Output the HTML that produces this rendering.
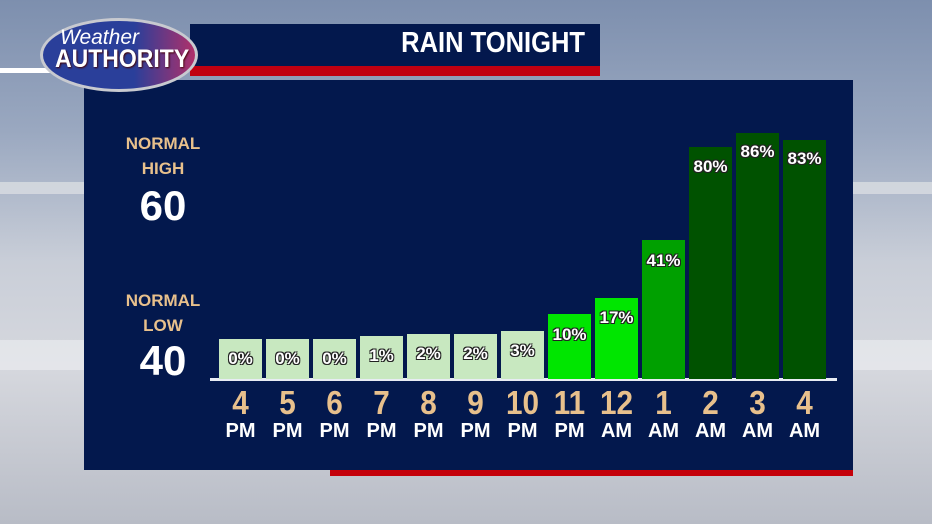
<!DOCTYPE html>
<html><head><style>
body{margin:0;width:932px;height:524px;overflow:hidden;position:relative;font-family:"Liberation Sans",sans-serif;
background:linear-gradient(180deg,#7d8fae 0%,#9aa8c0 25%,#c9ced8 50%,#d6d8de 70%,#b8bcc6 100%);}
.a{position:absolute}
.bar{position:absolute;width:43px;bottom:145px}
.pl{position:absolute;width:43px;text-align:center;color:#fff;font-weight:bold;font-size:17px;text-shadow:-1px -1px 0 #222,1px -1px 0 #222,-1px 1px 0 #222,1px 1px 0 #222}
.hr{position:absolute;width:47px;text-align:center;font-weight:bold;top:386px}
.hr b{display:block;color:#e8c08c;font-size:33px;line-height:34px;transform:scaleX(.9)}
.hr i{display:block;font-style:normal;color:#fff;font-size:20px;line-height:22px}
.lt{position:absolute;left:113px;width:100px;text-align:center;font-weight:bold}
</style></head><body>
<div class="a" style="left:0;top:182px;width:932px;height:12px;background:#e0e2e6;opacity:.7"></div>
<div class="a" style="left:0;top:340px;width:932px;height:30px;background:#eceef2;opacity:.6"></div>
<div class="a" style="left:84px;top:80px;width:769px;height:390px;background:#03184d"></div>
<div class="a" style="left:330px;top:470px;width:523px;height:6px;background:#c4000a"></div>
<div class="a" style="left:190px;top:24px;width:410px;height:44px;background:#03184d"></div>
<div class="a" style="left:190px;top:66px;width:410px;height:10px;background:#c00010"></div>
<div class="a" style="left:370px;top:27px;width:215px;text-align:right;color:#fff;font-weight:bold;font-size:29px;transform:scaleX(.88);transform-origin:right">RAIN TONIGHT</div>
<div class="a" style="left:0;top:68px;width:50px;height:5px;background:#fff"></div>
<div class="a" style="left:40px;top:18px;width:158px;height:74px;border-radius:50%;background:linear-gradient(90deg,#2a3f9a 60%,#b0306a);border:3px solid #c8cad0;box-sizing:border-box"></div>
<div class="a" style="left:60px;top:26px;color:#fff;font-style:italic;font-size:21px;">Weather</div>
<div class="a" style="left:55px;top:45px;color:#fff;font-weight:bold;font-size:25px;text-shadow:1px 1px 2px #400;transform:scaleX(.92);transform-origin:left">AUTHORITY</div>

<div class="lt" style="top:131px;color:#e8c08c;font-size:17px;line-height:25px">NORMAL<br>HIGH</div>
<div class="lt" style="top:182px;color:#fff;font-size:42px">60</div>
<div class="lt" style="top:288px;color:#e8c08c;font-size:17px;line-height:25px">NORMAL<br>LOW</div>
<div class="lt" style="top:337px;color:#fff;font-size:42px">40</div>

<div class="a" style="left:210px;top:378px;width:627px;height:3px;background:#e8ecf4"></div>

<div class="bar" style="left:219px;height:40px;background:#c8e8c0"></div>
<div class="bar" style="left:266px;height:40px;background:#c8e8c0"></div>
<div class="bar" style="left:313px;height:40px;background:#c8e8c0"></div>
<div class="bar" style="left:360px;height:43px;background:#c8e8c0"></div>
<div class="bar" style="left:407px;height:45px;background:#c8e8c0"></div>
<div class="bar" style="left:454px;height:45px;background:#c8e8c0"></div>
<div class="bar" style="left:501px;height:48px;background:#c8e8c0"></div>
<div class="bar" style="left:548px;height:65px;background:#00e600"></div>
<div class="bar" style="left:595px;height:81px;background:#00e600"></div>
<div class="bar" style="left:642px;height:139px;background:#00a000"></div>
<div class="bar" style="left:689px;height:232px;background:#005200"></div>
<div class="bar" style="left:736px;height:246px;background:#005200"></div>
<div class="bar" style="left:783px;height:239px;background:#005200"></div>

<div class="pl" style="left:219px;top:349px">0%</div>
<div class="pl" style="left:266px;top:349px">0%</div>
<div class="pl" style="left:313px;top:349px">0%</div>
<div class="pl" style="left:360px;top:346px">1%</div>
<div class="pl" style="left:407px;top:344px">2%</div>
<div class="pl" style="left:454px;top:344px">2%</div>
<div class="pl" style="left:501px;top:341px">3%</div>
<div class="pl" style="left:548px;top:325px">10%</div>
<div class="pl" style="left:595px;top:308px">17%</div>
<div class="pl" style="left:642px;top:251px">41%</div>
<div class="pl" style="left:689px;top:157px">80%</div>
<div class="pl" style="left:736px;top:142px">86%</div>
<div class="pl" style="left:783px;top:149px">83%</div>

<div class="hr" style="left:217px"><b>4</b><i>PM</i></div>
<div class="hr" style="left:264px"><b>5</b><i>PM</i></div>
<div class="hr" style="left:311px"><b>6</b><i>PM</i></div>
<div class="hr" style="left:358px"><b>7</b><i>PM</i></div>
<div class="hr" style="left:405px"><b>8</b><i>PM</i></div>
<div class="hr" style="left:452px"><b>9</b><i>PM</i></div>
<div class="hr" style="left:499px"><b>10</b><i>PM</i></div>
<div class="hr" style="left:546px"><b>11</b><i>PM</i></div>
<div class="hr" style="left:593px"><b>12</b><i>AM</i></div>
<div class="hr" style="left:640px"><b>1</b><i>AM</i></div>
<div class="hr" style="left:687px"><b>2</b><i>AM</i></div>
<div class="hr" style="left:734px"><b>3</b><i>AM</i></div>
<div class="hr" style="left:781px"><b>4</b><i>AM</i></div>
</body></html>
